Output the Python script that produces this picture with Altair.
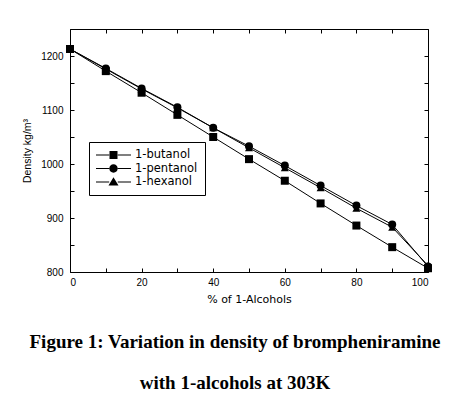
import altair as alt
import pandas as pd

pct = [0, 10, 20, 30, 40, 50, 60, 70, 80, 90, 100]
butanol = [1213, 1172, 1132, 1091, 1050, 1009, 969, 927, 886, 846, 807]
pentanol = [1213, 1177, 1140, 1105, 1067, 1033, 997, 960, 923, 888, 810]
hexanol = [1213, 1176, 1139, 1104, 1067, 1030, 993, 956, 918, 883, 812]
series_names = ["1-butanol", "1-pentanol", "1-hexanol"]
x_ticks = [0, 10, 20, 30, 40, 50, 60, 70, 80, 90, 100]
y_ticks = [800, 850, 900, 950, 1000, 1050, 1100, 1150, 1200, 1250]

rows = []
for name, vals in zip(series_names, [butanol, pentanol, hexanol]):
    for p, v in zip(pct, vals):
        rows.append({"pct": p, "density": v, "series": name})
df = pd.DataFrame(rows)

W, H = 358, 243
xs = alt.Scale(domain=[0, 100], nice=False)
ys = alt.Scale(domain=[800, 1250], nice=False)

tick_common = dict(labels=False, title=None, domain=False, grid=False,
                   tickSize=4, tickColor="black", ticks=True)

ax_x_labels = alt.Axis(orient="bottom", values=x_ticks, ticks=False, tickSize=0, format="d",
                       labelExpr="datum.value % 20 == 0 ? datum.label : ''",
                       title="% of 1-Alcohols", titlePadding=6, labelPadding=5,
                       titleFont="DejaVu Sans", titleFontSize=11,
                       domain=False, grid=False)
ax_y_labels = alt.Axis(orient="left", values=y_ticks, ticks=False, tickSize=0, format="d",
                       labelExpr="datum.value % 100 == 0 ? datum.label : ''",
                       title="Density kg/m\u00b3", titlePadding=8, labelPadding=7,
                       titleFont="Liberation Sans", titleFontSize=10.5,
                       domain=False, grid=False)
ax_x_in_bottom = alt.Axis(orient="top", offset=-H, values=x_ticks, **tick_common)
ax_y_in_left = alt.Axis(orient="right", offset=-W, values=y_ticks, **tick_common)
ax_x_in_top = alt.Axis(orient="bottom", offset=-H, values=x_ticks, **tick_common)
ax_y_in_right = alt.Axis(orient="left", offset=-W, values=y_ticks, **tick_common)

base = alt.Chart(df)

lines = base.mark_line(color="black", strokeWidth=1).encode(
    x=alt.X("pct:Q", scale=xs, axis=ax_x_labels),
    y=alt.Y("density:Q", scale=ys, axis=ax_y_labels),
    detail="series:N",
)

points = base.mark_point(filled=True, color="black", opacity=1, size=64).encode(
    x=alt.X("pct:Q", scale=xs, axis=ax_x_in_bottom),
    y=alt.Y("density:Q", scale=ys, axis=ax_y_in_left),
    shape=alt.Shape("series:N", sort=series_names,
                    scale=alt.Scale(domain=series_names,
                                    range=["square", "circle", "triangle-up"]),
                    legend=None),
)

# legend glyphs: short line with a marker in its middle (units of 6px)
seg = "M-1,-0.09H1.2V0.09H-1Z M2.63,-0.09H4.83V0.09H2.63Z "
legend_paths = [
    seg + "M1.25,-0.667H2.583V0.667H1.25Z",
    seg + "M1.217,0A0.7,0.7 0 1,1 2.617,0A0.7,0.7 0 1,1 1.217,0Z",
    seg + "M1.917,-0.8L2.75,0.6L1.083,0.6Z",
]

legend_layer = base.mark_point(filled=True, color="black", opacity=0).encode(
    x=alt.X("pct:Q", scale=xs, axis=ax_x_in_top),
    y=alt.Y("density:Q", scale=ys, axis=ax_y_in_right),
    shape=alt.Shape("series:N", sort=series_names,
                    scale=alt.Scale(domain=series_names, range=legend_paths),
                    legend=alt.Legend(title=None, orient="none", legendX=19, legendY=113,
                                      symbolOpacity=1, symbolFillColor="black",
                                      symbolStrokeWidth=0, symbolSize=144,
                                      labelFont="DejaVu Sans", labelFontSize=11.5,
                                      labelColor="black", labelOffset=27,
                                      padding=7, strokeColor="black", fillColor="white",
                                      rowPadding=1.5)),
)

chart = alt.layer(lines, points, legend_layer).resolve_scale(
    shape="independent"
).resolve_axis(
    x="independent", y="independent"
).properties(
    width=W, height=H,
    autosize=alt.AutoSizeParams(type="none"),
    padding={"left": 62, "top": 21, "right": 31, "bottom": 124},
    title=alt.TitleParams(
        text=["Figure 1: Variation in density of brompheniramine",
              "with 1-alcohols at 303K"],
        orient="bottom", anchor="middle", font="Liberation Serif", fontSize=19,
        fontWeight="bold", color="black", lineHeight=41, offset=29, dx=-14,
    ),
).configure_view(
    stroke="black", strokeWidth=1
).configure_axis(
    labelFont="Liberation Sans", labelFontSize=10, labelColor="black",
    titleColor="black", titleFontWeight="normal",
)

chart.save("out.html", embed_options={"renderer": "svg", "actions": False})
